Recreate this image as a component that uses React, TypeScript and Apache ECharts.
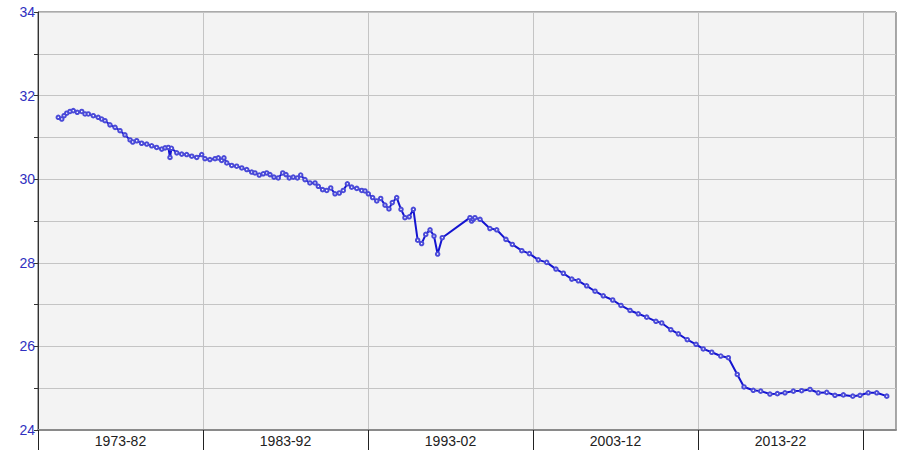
import React, { useEffect, useRef } from "react";
import * as echarts from "echarts";

const years: number[] = [
  1974.23, 1974.44, 1974.58, 1974.74, 1974.94, 1975.14, 1975.38, 1975.65, 1975.85, 1976.05,
  1976.35, 1976.65, 1976.86, 1977.06, 1977.36, 1977.67, 1977.97, 1978.27, 1978.58, 1978.74,
  1978.98, 1979.28, 1979.59, 1979.89, 1980.19, 1980.5, 1980.7, 1980.9, 1981.0, 1981.09,
  1981.41, 1981.71, 1982.01, 1982.32, 1982.62, 1982.92, 1983.12, 1983.42, 1983.73, 1983.93,
  1984.13, 1984.27, 1984.44, 1984.74, 1985.04, 1985.35, 1985.65, 1985.95, 1986.15, 1986.41,
  1986.65, 1986.86, 1987.06, 1987.3, 1987.56, 1987.83, 1988.03, 1988.23, 1988.47, 1988.72,
  1988.92, 1989.18, 1989.48, 1989.79, 1989.99, 1990.25, 1990.5, 1990.74, 1991.0, 1991.26,
  1991.5, 1991.75, 1992.01, 1992.32, 1992.62, 1992.82, 1993.02, 1993.28, 1993.53, 1993.77,
  1994.03, 1994.27, 1994.47, 1994.74, 1995.0, 1995.24, 1995.5, 1995.75, 1996.01, 1996.25,
  1996.5, 1996.76, 1997.0, 1997.22, 1997.5, 1999.18, 1999.28, 1999.38, 1999.48, 1999.79,
  2000.39, 2000.8, 2001.36, 2001.75, 2002.32, 2002.78, 2003.32, 2003.83, 2004.39, 2004.84,
  2005.35, 2005.75, 2006.25, 2006.76, 2007.26, 2007.83, 2008.33, 2008.88, 2009.38, 2009.89,
  2010.45, 2010.8, 2011.35, 2011.81, 2012.35, 2012.88, 2013.32, 2013.83, 2014.38, 2014.84,
  2015.38, 2015.79, 2016.35, 2016.8, 2017.36, 2017.81, 2018.27, 2018.78, 2019.28, 2019.79,
  2020.29, 2020.8, 2021.3, 2021.81, 2022.38, 2022.82, 2023.32, 2023.83, 2024.44,
];

const values: number[] = [
  31.48, 31.44, 31.52, 31.58, 31.62, 31.64, 31.6, 31.62, 31.56, 31.56,
  31.52, 31.48, 31.44, 31.4, 31.3, 31.24, 31.16, 31.06, 30.94, 30.89,
  30.92, 30.86, 30.84, 30.8, 30.76, 30.72, 30.75, 30.76, 30.52, 30.74,
  30.63, 30.6, 30.59, 30.55, 30.52, 30.59, 30.49, 30.47, 30.49, 30.51,
  30.45, 30.51, 30.39, 30.33, 30.31, 30.27, 30.23, 30.17, 30.15, 30.1,
  30.13, 30.15, 30.11, 30.05, 30.03, 30.15, 30.11, 30.03, 30.05, 30.03,
  30.1, 29.99, 29.91, 29.91, 29.83, 29.75, 29.73, 29.79, 29.65, 29.67,
  29.73, 29.89, 29.81, 29.78, 29.73, 29.72, 29.65, 29.56, 29.48, 29.54,
  29.38, 29.29, 29.44, 29.56, 29.28, 29.08, 29.1, 29.28, 28.54, 28.46,
  28.68, 28.79, 28.64, 28.21, 28.6, 29.08, 29.0, 29.04, 29.08, 29.04,
  28.82, 28.79, 28.56, 28.44, 28.29, 28.22, 28.07, 28.01, 27.85, 27.75,
  27.61, 27.57, 27.45, 27.32, 27.21, 27.11, 26.98, 26.86, 26.78, 26.7,
  26.6, 26.56, 26.4, 26.3, 26.16, 26.05, 25.94, 25.86, 25.77, 25.73,
  25.33, 25.03, 24.95, 24.93, 24.86, 24.87, 24.89, 24.93, 24.94, 24.97,
  24.89, 24.9, 24.83, 24.84, 24.81, 24.83, 24.89, 24.89, 24.81,
];

const decadeStarts: number[] = [1973, 1983, 1993, 2003, 2013, 2023];
const labelCenters: number[] = [1978, 1988, 1998, 2008, 2018];

export default function App() {
  const ref = useRef<HTMLDivElement>(null);
  useEffect(() => {
    if (!ref.current) return;
    const chart = echarts.init(ref.current, undefined, { renderer: "svg" });
    const data = years.map((y, i) => [y, values[i]]);
    chart.setOption({
      animation: false,
      backgroundColor: "#ffffff",
      grid: {
        left: 38,
        right: 8,
        top: 12,
        bottom: 28,
        show: true,
        backgroundColor: "#f3f3f3",
        borderColor: "#555555",
        borderWidth: 1,
      },
      xAxis: [
        {
          type: "value",
          min: 1973,
          max: 2025,
          interval: 10,
          axisLine: { show: true, lineStyle: { color: "#8a8a8a", width: 2 } },
          axisTick: {
            show: true,
            length: 20,
            customValues: decadeStarts,
            lineStyle: { color: "#222222", width: 1 },
          },
          axisLabel: { show: false },
          splitLine: { show: true, lineStyle: { color: "#c4c4c4", width: 1 } },
        },
        {
          type: "value",
          min: 1973,
          max: 2025,
          interval: 5,
          position: "bottom",
          axisLine: { show: false },
          axisTick: { show: false },
          splitLine: { show: false },
          axisLabel: {
            show: true,
            customValues: labelCenters,
            margin: 4,
            color: "#222222",
            fontFamily: "Liberation Sans, Arial, sans-serif",
            fontSize: 14,
            formatter: (v: number) => {
              const k = Math.round(v - 1973);
              if (k % 10 !== 5) return "";
              const s = Math.round(v - 5);
              const e = Math.round(v + 4);
              return `${s}-${String(e).slice(2)}`;
            },
          },
        },
      ],
      yAxis: {
        type: "value",
        min: 24,
        max: 34,
        interval: 1,
        axisLine: { show: true, lineStyle: { color: "#333333", width: 1 } },
        axisTick: { show: true, length: 4, lineStyle: { color: "#333333" } },
        axisLabel: {
          margin: 3,
          color: "#3030c0",
          fontFamily: "Liberation Sans, Arial, sans-serif",
          fontSize: 14,
          formatter: (v: number) => (Math.round(v) % 2 === 0 ? String(v) : ""),
        },
        splitLine: { show: true, lineStyle: { color: "#c4c4c4", width: 1 } },
      },
      series: [
        {
          type: "line",
          xAxisIndex: 0,
          data,
          symbol: "emptyCircle",
          symbolSize: 3.5,
          showSymbol: true,
          lineStyle: { color: "#1414d0", width: 2 },
          itemStyle: { color: "#4a4ad8", borderWidth: 1 },
        },
      ],
    });
    return () => chart.dispose();
  }, []);
  return (
    <div
      ref={ref}
      style={{ position: "fixed", left: 0, top: 0, width: 904, height: 458 }}
    />
  );
}
